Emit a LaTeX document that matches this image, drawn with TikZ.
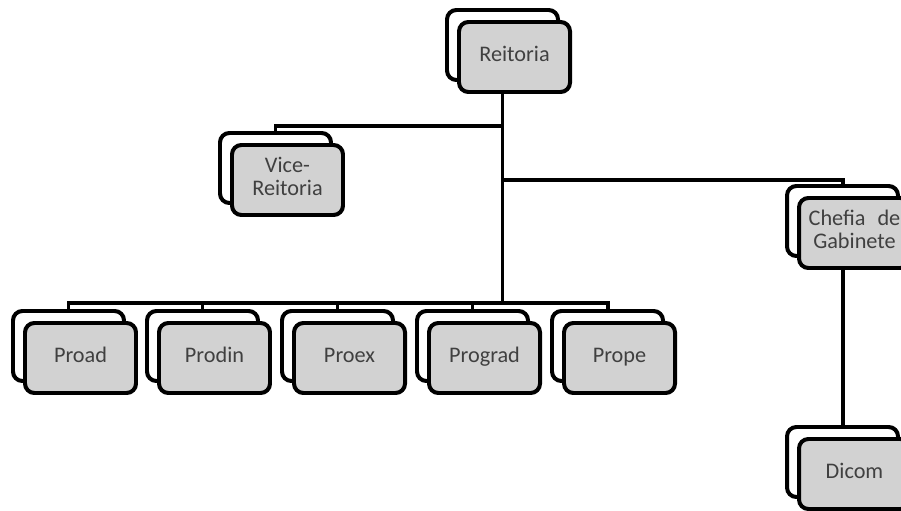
\documentclass[tikz,border=0pt]{standalone}
\usepackage{fontspec}
\setmainfont{Carlito}
\usetikzlibrary{backgrounds}
\definecolor{boxgray}{HTML}{D2D2D2}
\definecolor{txtgray}{HTML}{404040}
\begin{document}
\begin{tikzpicture}[
  x=0.03cm, y=-0.03cm,
  backbox/.style={rectangle, draw, line width=3.4pt, rounded corners=8pt, fill=white,
    minimum width=3.33cm, minimum height=2.1cm},
  frontbox/.style={rectangle, draw, line width=3.4pt, rounded corners=8pt, fill=boxgray,
    minimum width=3.33cm, minimum height=2.1cm, align=center, text=txtgray,
    font=\fontsize{19}{20}\selectfont, execute at begin node={\strut}},
  conn/.style={line width=3.4pt},
]
\useasboundingbox (0,0) rectangle (901,511);
\clip (0,0) rectangle (901,511);

% ============================================================
% TOP: Reitoria
% ============================================================
\node[backbox] (reitB) at (502.5, 45) {};
\node[frontbox] (reit) at (514.5, 57) {Reitoria};

% ============================================================
% Vice-Reitoria
% ============================================================
\node[backbox] (viceB) at (275.5, 168) {};
\node[frontbox] (vice) at (287.5, 180) {Vice-\\Reitoria};

% ============================================================
% Chefia de Gabinete and Dicom
% ============================================================
\node[backbox] (chefB) at (842.5, 221) {};
\node[frontbox] (chef) at (854.5, 233) {\makebox[2.75cm][s]{Chefia\hfill de}\\Gabinete};
\node[backbox] (dicomB) at (842.5, 462) {};
\node[frontbox] (dicom) at (854.5, 474) {Dicom};

% ============================================================
% BOTTOM ROW: pro-reitorias
% ============================================================
\node[backbox] (proadB) at (68.5, 346) {};
\node[frontbox] (proad) at (80.5, 358) {Proad};
\node[backbox] (prodinB) at (202.5, 346) {};
\node[frontbox] (prodin) at (214.5, 358) {Prodin};
\node[backbox] (proexB) at (337.5, 346) {};
\node[frontbox] (proex) at (349.5, 358) {Proex};
\node[backbox] (progradB) at (472.5, 346) {};
\node[frontbox] (prograd) at (484.5, 358) {Prograd};
\node[backbox] (propeB) at (607.5, 346) {};
\node[frontbox] (prope) at (619.5, 358) {Prope};

% Connectors behind the boxes
\begin{pgfonlayer}{background}
\draw[conn] (reitB.south) -- ++(0, 44) -| (viceB.north);
\draw[conn] (reitB.south) -- ++(0, 98) -| (chefB.north);
\draw[conn] (reitB.south) -- ++(0, 221) -| (proadB.north);
\draw[conn] (reitB.south) -- ++(0, 221) -| (prodinB.north);
\draw[conn] (reitB.south) -- ++(0, 221) -| (proexB.north);
\draw[conn] (reitB.south) -- ++(0, 221) -| (progradB.north);
\draw[conn] (reitB.south) -- ++(0, 221) -| (propeB.north);
\draw[conn] (chefB.south) -- (dicomB.north);
\end{pgfonlayer}

\end{tikzpicture}
\end{document}
